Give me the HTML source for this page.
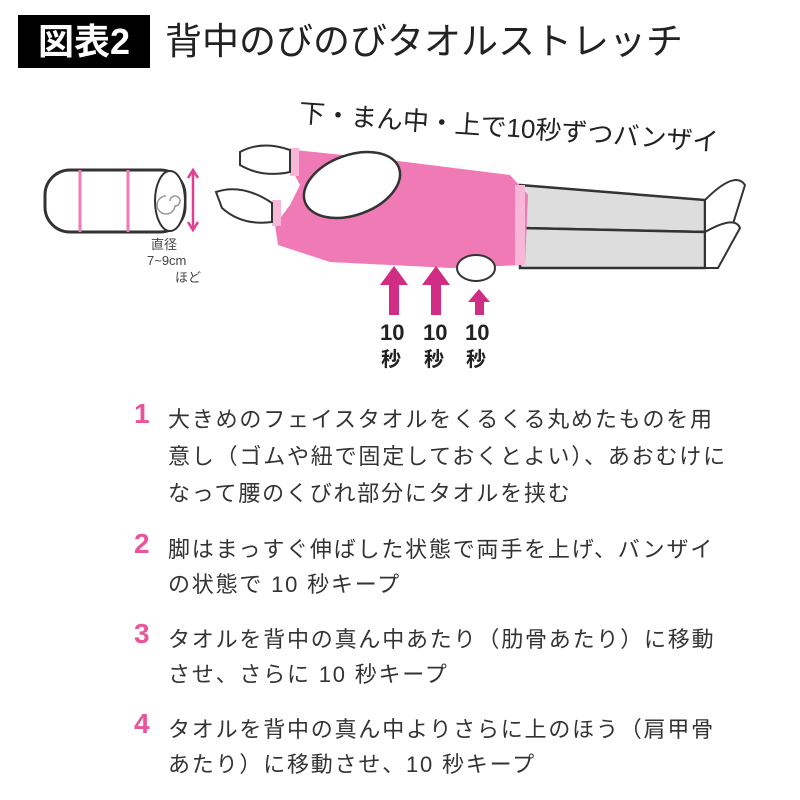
<!DOCTYPE html>
<html><head><meta charset="utf-8"><style>
body{margin:0;width:800px;height:800px;background:#fff;position:relative;overflow:hidden;font-family:"Liberation Sans","Noto Sans CJK JP",sans-serif;}
.hd{position:absolute;left:18px;top:15px;width:132px;height:53px;background:#000;color:#fff;font-size:36px;font-weight:bold;line-height:53px;text-align:center;}
.tt{position:absolute;left:165px;top:15px;font-size:37px;line-height:53px;color:#222;letter-spacing:0px;}
.n{position:absolute;left:134px;font-size:28px;font-weight:bold;color:#e8559a;}
.l{position:absolute;left:168px;font-size:22px;letter-spacing:1.8px;color:#333;white-space:nowrap;}
</style></head><body>
<div class="hd">図表2</div>
<div class="tt">背中のびのびタオルストレッチ</div>
<svg width="800" height="400" style="position:absolute;left:0;top:0" font-family="Liberation Sans,Noto Sans CJK JP,sans-serif">
<rect x="45" y="170" width="140" height="62" rx="25" fill="#fff" stroke="#333" stroke-width="3"/>
<ellipse cx="170" cy="201" rx="15" ry="30" fill="#fff" stroke="#333" stroke-width="2"/>
<path d="M170 201 a5 5 0 1 1 5 5 a9 9 0 1 1 -9 -10" fill="none" stroke="#999" stroke-width="1.5"/>
<line x1="80" y1="170" x2="80" y2="232" stroke="#f07ab5" stroke-width="3"/>
<line x1="128" y1="170" x2="128" y2="232" stroke="#f07ab5" stroke-width="3"/>
<line x1="193" y1="172" x2="193" y2="228" stroke="#e0408f" stroke-width="2.5"/>
<path d="M188 178 L193 170 L198 178 M188 222 L193 230 L198 222" fill="none" stroke="#e0408f" stroke-width="2.5"/>
<text x="151" y="249" font-size="13" fill="#444">直径</text>
<text x="147" y="265" font-size="13" fill="#444">7~9cm</text>
<text x="175" y="282" font-size="13" fill="#444">ほど</text>
<path d="M520 185 L705 200 L705 232 L520 228 Z" fill="#ddd" stroke="#333" stroke-width="2.5"/>
<path d="M520 228 L705 232 L705 268 L520 268 Z" fill="#ddd" stroke="#333" stroke-width="2.5"/>
<path d="M705 200 Q735 170 745 185 L728 240 L705 240 Z" fill="#fff" stroke="#333" stroke-width="2"/>
<path d="M705 232 Q735 215 740 228 L718 268 L705 268 Z" fill="#fff" stroke="#333" stroke-width="2"/>
<path d="M295 150 L390 160 L510 175 L528 195 L525 265 L450 268 L330 262 L278 245 L275 225 L290 205 L300 185 L292 170 Z" fill="#f07ab5"/>
<rect x="272" y="200" width="9" height="26" fill="#f8b7d6"/>
<rect x="290" y="148" width="9" height="28" fill="#f8b7d6"/>
<rect x="515" y="185" width="10" height="80" fill="#f8b7d6"/>
<ellipse cx="352" cy="185" rx="50" ry="30" fill="#fff" stroke="#333" stroke-width="2.5" transform="rotate(-20 352 185)"/>
<path d="M240 152 Q262 140 290 150 L290 172 Q262 178 240 165 Z" fill="#fff" stroke="#333" stroke-width="2"/>
<path d="M216 192 Q242 183 272 203 L272 222 Q242 226 222 208 Z" fill="#fff" stroke="#333" stroke-width="2"/>
<ellipse cx="476" cy="268" rx="19" ry="13" fill="#fff" stroke="#333" stroke-width="2"/>
<text x="298" y="136" font-size="26" fill="#222" transform="rotate(4 500 136)">下・まん中・上で10秒ずつバンザイ</text>
<g fill="#d12d84">
<rect x="389" y="283" width="10" height="32"/><polygon points="380,285 394,266 408,285"/>
<rect x="431" y="283" width="10" height="32"/><polygon points="422,285 436,266 450,285"/>
<rect x="475" y="300" width="9" height="15"/><polygon points="468,302 479,289 490,302"/>
</g>
<g font-size="22" font-weight="bold" fill="#222">
<text x="380" y="340">10</text><text x="423" y="340">10</text><text x="465" y="340">10</text>
<text x="381" y="366" font-size="20">秒</text><text x="424" y="366" font-size="20">秒</text><text x="466" y="366" font-size="20">秒</text>
</g>
</svg>
<div class="n" style="top:398px">1</div>
<div class="l" style="top:402px">大きめのフェイスタオルをくるくる丸めたものを用</div>
<div class="l" style="top:439px">意し（ゴムや紐で固定しておくとよい）、あおむけに</div>
<div class="l" style="top:476px">なって腰のくびれ部分にタオルを挟む</div>
<div class="n" style="top:528px">2</div>
<div class="l" style="top:532px">脚はまっすぐ伸ばした状態で両手を上げ、バンザイ</div>
<div class="l" style="top:567px">の状態で 10 秒キープ</div>
<div class="n" style="top:618px">3</div>
<div class="l" style="top:622px">タオルを背中の真ん中あたり（肋骨あたり）に移動</div>
<div class="l" style="top:657px">させ、さらに 10 秒キープ</div>
<div class="n" style="top:708px">4</div>
<div class="l" style="top:712px">タオルを背中の真ん中よりさらに上のほう（肩甲骨</div>
<div class="l" style="top:747px">あたり）に移動させ、10 秒キープ</div>
</body></html>
